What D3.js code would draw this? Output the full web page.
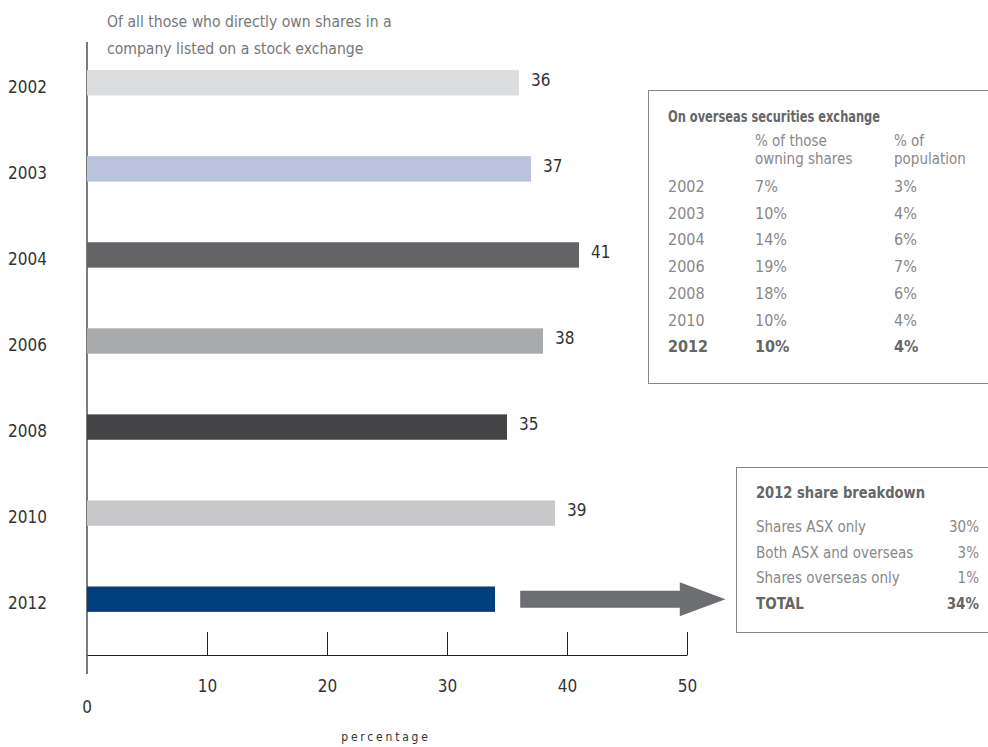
<!DOCTYPE html>
<html>
<head>
<meta charset="utf-8">
<script src="https://cdn.jsdelivr.net/npm/d3@7"></script>
<style>
  html, body { margin: 0; padding: 0; background: #fff; }
  svg { display: block; }
  text { font-family: "DejaVu Sans Condensed", "Liberation Sans Narrow", "Roboto", sans-serif; }
</style>
</head>
<body>
<svg id="chart" width="988" height="747"></svg>
<script>
// ---- data ----
const years = ["2002", "2003", "2004", "2006", "2008", "2010", "2012"];
const shareValues = [36, 37, 41, 38, 35, 39, 34];
const barColors = ["#dcdddf", "#b9c3dc", "#646466", "#a9aaac", "#444446", "#c8c8ca", "#023e7d"];
const xTicks = [10, 20, 30, 40, 50];
const subtitleLines = ["Of all those who directly own shares in a", "company listed on a stock exchange"];

const overseasTitle = "On overseas securities exchange";
const overseasHeaders = [["% of those", "owning shares"], ["% of", "population"]];
const overseasYears = ["2002", "2003", "2004", "2006", "2008", "2010", "2012"];
const overseasOwning = [7, 10, 14, 19, 18, 10, 10];
const overseasPopulation = [3, 4, 6, 7, 6, 4, 4];

const breakdownTitle = "2012 share breakdown";
const breakdownLabels = ["Shares ASX only", "Both ASX and overseas", "Shares overseas only", "TOTAL"];
const breakdownValues = [30, 3, 1, 34];

// ---- chart ----
const svg = d3.select("#chart");
const x = d3.scaleLinear().domain([0, 50]).range([87, 687]);
const y = d3.scaleBand().domain(years).range([40, 642]).paddingInner(0.705).paddingOuter(0.35);

// subtitle
svg.selectAll("text.sub").data(subtitleLines).join("text")
  .attr("class", "sub")
  .attr("x", 107).attr("y", (d, i) => 27 + i * 27)
  .attr("font-size", 15.6).attr("fill", "#777")
  .text(d => d);

// vertical axis line
svg.append("line").attr("x1", x(0)).attr("x2", x(0)).attr("y1", 42).attr("y2", 674)
  .attr("stroke", "#222").attr("stroke-width", 1.2);

// bars
const data = years.map((yr, i) => ({ yr, v: shareValues[i], c: barColors[i] }));
svg.selectAll("rect.bar").data(data).join("rect")
  .attr("class", "bar")
  .attr("x", x(0)).attr("y", d => y(d.yr))
  .attr("width", d => x(d.v) - x(0)).attr("height", y.bandwidth())
  .attr("fill", d => d.c);

// value labels (the last year is pointed to by the arrow instead)
svg.selectAll("text.val").data(data.slice(0, -1)).join("text")
  .attr("class", "val")
  .attr("x", d => x(d.v) + 12).attr("y", d => y(d.yr) + y.bandwidth() / 2 - 3)
  .attr("dy", "0.35em")
  .attr("font-size", 17).attr("fill", "#333")
  .text(d => d.v);

// year labels
svg.selectAll("text.yr").data(data).join("text")
  .attr("class", "yr")
  .attr("x", 8).attr("y", d => y(d.yr) + y.bandwidth() / 2 + 4)
  .attr("dy", "0.35em")
  .attr("font-size", 17).attr("fill", "#333")
  .text(d => d.yr);

// x axis
const axisG = svg.append("g").attr("transform", "translate(0,655)")
  .call(d3.axisBottom(x).tickValues(xTicks).tickSize(-23).tickSizeOuter(0).tickPadding(25));
axisG.select(".domain").attr("stroke", "#222");
axisG.selectAll(".tick line").attr("stroke", "#222");
axisG.selectAll(".tick text").attr("font-size", 17).attr("fill", "#333")
  .attr("font-family", "DejaVu Sans Condensed, sans-serif");

svg.append("text").attr("x", x(0)).attr("y", 713).attr("text-anchor", "middle")
  .attr("font-size", 17).attr("fill", "#333").text("0");

svg.append("text").attr("x", 386).attr("y", 741).attr("text-anchor", "middle")
  .attr("font-size", 12).attr("fill", "#333").attr("letter-spacing", "2.8px")
  .text("percentage");

// arrow (from beyond the 2012 bar toward the breakdown box)
const ay = y("2012") + y.bandwidth() / 2;
const ax0 = x(36.1), axHead = x(49.4), axTip = x(53.2);
svg.append("path")
  .attr("d", `M${ax0},${ay - 8.5} L${axHead},${ay - 8.5} L${axHead},${ay - 17} L${axTip},${ay} L${axHead},${ay + 17} L${axHead},${ay + 8.5} L${ax0},${ay + 8.5} Z`)
  .attr("fill", "#6d6e71");

// ---- overseas table box ----
const tb = svg.append("g");
tb.append("rect").attr("x", 648.5).attr("y", 90.5).attr("width", 345).attr("height", 293)
  .attr("fill", "none").attr("stroke", "#888").attr("stroke-width", 1);
tb.append("text").attr("x", 668).attr("y", 122).attr("font-size", 15).attr("font-weight", "bold")
  .attr("textLength", 212).attr("lengthAdjust", "spacingAndGlyphs")
  .attr("fill", "#666").text(overseasTitle);
const colX = [755, 894];
overseasHeaders.forEach((lines, ci) => {
  lines.forEach((t, li) => {
    tb.append("text").attr("x", colX[ci]).attr("y", 146 + li * 18)
      .attr("font-size", 15).attr("fill", "#888").text(t);
  });
});
overseasYears.forEach((yr, i) => {
  const last = i === overseasYears.length - 1;
  const ry = 192 + i * 26.7;
  const g = tb.append("g").attr("font-size", 16)
    .attr("fill", last ? "#666" : "#888").attr("font-weight", last ? "bold" : "normal");
  g.append("text").attr("x", 668).attr("y", ry).text(yr);
  g.append("text").attr("x", colX[0]).attr("y", ry).text(overseasOwning[i] + "%");
  g.append("text").attr("x", colX[1]).attr("y", ry).text(overseasPopulation[i] + "%");
});

// ---- breakdown box ----
const bb = svg.append("g");
bb.append("rect").attr("x", 736.5).attr("y", 467.5).attr("width", 260).attr("height", 165)
  .attr("fill", "none").attr("stroke", "#888").attr("stroke-width", 1);
bb.append("text").attr("x", 756).attr("y", 498).attr("font-size", 15).attr("font-weight", "bold")
  .attr("textLength", 169).attr("lengthAdjust", "spacingAndGlyphs")
  .attr("fill", "#666").text(breakdownTitle);
breakdownLabels.forEach((lab, i) => {
  const last = i === breakdownLabels.length - 1;
  const ry = 532 + i * 25.5;
  const g = bb.append("g").attr("font-size", 15)
    .attr("fill", last ? "#666" : "#888").attr("font-weight", last ? "bold" : "normal");
  g.append("text").attr("x", 756).attr("y", ry).text(lab);
  g.append("text").attr("x", 979).attr("y", ry).attr("text-anchor", "end").text(breakdownValues[i] + "%");
});
</script>
</body>
</html>
